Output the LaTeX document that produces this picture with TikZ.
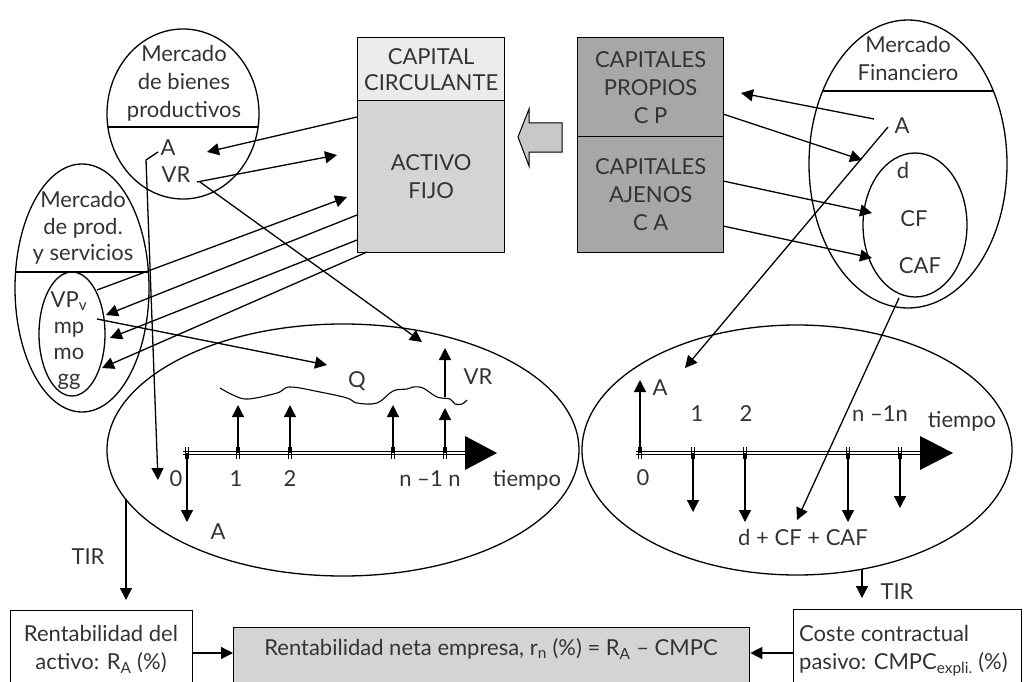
\documentclass[tikz,border=0pt]{standalone}
\usepackage{fontspec}
\setmainfont{Lato}
\usetikzlibrary{shapes.geometric,arrows.meta}
\definecolor{ink}{HTML}{333333}
\definecolor{paleg}{HTML}{EBEBEB}
\definecolor{midg}{HTML}{D4D4D4}
\definecolor{darkg}{HTML}{A7A7A7}
\definecolor{arrg}{HTML}{C8C8C8}
\begin{document}
\begin{tikzpicture}[x=1pt,y=-1pt,
  every node/.style={font=\fontsize{22}{28}\selectfont, text=ink, inner sep=0pt},
  lbl/.style={align=center},
  lab/.style={text height=1.5ex, text depth=0.4ex},
  oval/.style={draw, ellipse, line width=1.3pt, inner sep=0pt},
  conn/.style={line width=1.3pt},
  arr/.style={conn, -{Triangle[length=12pt,width=12pt]}},
  panel/.style={draw, line width=1.3pt, inner sep=0pt, anchor=north west, align=center},
  tick/.style={line width=0.9pt},
  axis/.style={double, double distance=2.4pt, line width=0.9pt},
]
\useasboundingbox (0,0) rectangle (1025,682);

% ---------- market of productive goods ----------
\node[oval, minimum width=152pt, minimum height=170pt] (mbp) at (183,114) {};
\draw[conn] (108,127) -- (258,127);
\node[lbl] (mbpt) at (184,83) {Mercado\\de bienes\\productivos};
\node[lab] (mbpA) at (168,153) {A};
\node[lab] (mbpVR) at (176,180) {VR};

% ---------- market of products and services ----------
\node[oval, minimum width=134pt, minimum height=248pt] (mps) at (82,288) {};
\draw[conn] (16,272) -- (148,272);
\node[lbl, font=\fontsize{22}{26.5}\selectfont] (mpst) at (83,228) {Mercado\\de prod.\\y servicios};
\node[oval, minimum width=66pt, minimum height=124pt] (mpsi) at (72,334) {};
\node[lbl, font=\fontsize{22}{26}\selectfont] (mpsit) at (69,341) {VP\textsubscript{v}\\mp\\mo\\gg};

% ---------- assets ----------
\node[panel, fill=paleg, minimum width=147pt, minimum height=63pt,
      font=\fontsize{22}{26}\selectfont] (cc) at (357,37) {CAPITAL\\CIRCULANTE};
\node[panel, fill=midg, minimum width=147pt, minimum height=152pt] (af) at (357,100) {ACTIVO\\FIJO};

% ---------- liabilities ----------
\node[panel, fill=darkg, minimum width=146pt, minimum height=99pt] (cp) at (577,37) {CAPITALES\\PROPIOS\\C P};
\node[panel, fill=darkg, minimum width=146pt, minimum height=116pt] (ca) at (577,136) {CAPITALES\\AJENOS\\C A};

% block arrow: funds flow from liabilities to assets
\draw[line width=1pt, fill=arrg] (562,123) -- (529,123) -- (529,109) -- (518,137)
  -- (529,166) -- (529,152) -- (562,152) -- cycle;

% ---------- financial market ----------
\node[oval, minimum width=198pt, minimum height=288pt] (mf) at (908,164) {};
\draw[conn] (823,91) -- (993,91);
\node[lbl] (mft) at (908,58) {Mercado\\Financiero};
\node[lab] (mfA) at (902,131) {A};
\node[oval, minimum width=104pt, minimum height=144pt] (mfi) at (915,225) {};
\node[lab] (mfd) at (903,176) {d};
\node[lab] (mfCF) at (914,224) {CF};
\node[lab] (mfCAF) at (920,271) {CAF};

% ---------- investment cash-flow diagram ----------
\node[oval, minimum width=472pt, minimum height=252pt] (pL) at (343,450) {};
\coordinate (L0) at (187,453);
\coordinate (L1) at (238,453);
\coordinate (L2) at (290,453);
\coordinate (L3) at (393,453);
\coordinate (L4) at (445,453);
\draw[axis] (183,453) -- (468,453);
\fill (465,436) -- (497,453) -- (465,470) -- cycle;
\foreach \x in {187,238,290,393,445}
  \draw[tick] (\x-1.8,447) -- (\x-1.8,459) (\x+1.8,447) -- (\x+1.8,459);
\draw[arr] (L1) -- (L1 |- 0,405);
\draw[arr] (L2) -- (L2 |- 0,405);
\draw[arr] (L3) -- (L3 |- 0,405);
\draw[arr] (L4) -- (L4 |- 0,408);
\coordinate (vrbase) at (445,397);
\draw[arr] (vrbase) -- (vrbase |- 0,348);
\draw[arr] (L0) -- (L0 |- 0,522);
% brace grouping the flows Q
\draw[line width=1.1pt] plot[smooth, tension=0.6] coordinates {
  (220,388) (233,395) (248,399) (277,393) (290,387) (320,392) (347,398)
  (357,403) (377,403) (393,391) (407,389) (413,387) (423,388) (437,397)
  (450,399) (455,404) (462,404) (467,400)};
\node[lab] (nL0) at (176,484) {0};
\node[lab] (nL1) at (236,484) {1};
\node[lab] (nL2) at (290,484) {2};
\node[lab] (nLn) at (430,484) {n –1 n};
\node[lab] (tL) at (527,484) {tiempo};
\node[lab] (aL) at (218,537) {A};
\node[lab] (qL) at (357,385) {Q};
\node[lab] (vrL) at (478,382) {VR};

% ---------- financing cash-flow diagram ----------
\node[oval, minimum width=430pt, minimum height=250pt] (pR) at (797,450) {};
\coordinate (R0) at (640,453);
\coordinate (R1) at (693,453);
\coordinate (R2) at (745,453);
\coordinate (R3) at (848,453);
\coordinate (R4) at (900,453);
\draw[axis] (636,453) -- (923,453);
\fill (920,436) -- (953,453) -- (920,470) -- cycle;
\foreach \x in {640,693,745,848,900}
  \draw[tick] (\x-1.8,447) -- (\x-1.8,459) (\x+1.8,447) -- (\x+1.8,459);
\draw[arr] (R0) -- (R0 |- 0,380);
\draw[arr] (R1) -- (R1 |- 0,512);
\draw[arr] (R2) -- (R2 |- 0,522);
\draw[arr] (R3) -- (R3 |- 0,522);
\draw[arr] (R4) -- (R4 |- 0,508);
\node[lab] (aR) at (660,393) {A};
\node[lab] (nR1) at (697,419) {1};
\node[lab] (nR2) at (746,419) {2};
\node[lab] (nRn) at (880,419) {n –1n};
\node[lab] (tR) at (962,425) {tiempo};
\node[lab] (nR0) at (643,483) {0};
\node[lab] (sumR) at (803,543) {d + CF + CAF};

% ---------- flows between markets and the balance sheet ----------
\coordinate (a1s) at (357,117);  \coordinate (a1e) at (207,152);
\coordinate (a2s) at (197,182);  \coordinate (a2e) at (337,155);
\coordinate (a3s) at (97,290);   \coordinate (a3e) at (347,197);
\coordinate (a4s) at (357,215);  \coordinate (a4e) at (106,315);
\coordinate (a5s) at (357,240);  \coordinate (a5e) at (110,338);
\coordinate (a6s) at (367,252);  \coordinate (a6e) at (102,368);
\coordinate (a7s) at (97,319);   \coordinate (a7e) at (327,365);
\coordinate (a8s) at (200,182);  \coordinate (a8e) at (422,342);
\coordinate (a9s) at (158,152);  \coordinate (a9k) at (146,160);
\coordinate (a9e) at (158,480);
\draw[arr] (a1s) -- (a1e);
\draw[arr] (a2s) -- (a2e);
\draw[arr] (a3s) -- (a3e);
\draw[arr] (a4s) -- (a4e);
\draw[arr] (a5s) -- (a5e);
\draw[arr] (a6s) -- (a6e);
\draw[arr] (a7s) -- (a7e);
\draw[arr] (a8s) -- (a8e);
\draw[arr] (a9s) -- (a9k) -- (a9e);

\coordinate (b1s) at (874,119);  \coordinate (b1e) at (741,93);
\coordinate (b2s) at (723,114);  \coordinate (b2e) at (862,160);
\coordinate (b3s) at (723,181);  \coordinate (b3e) at (872,213);
\coordinate (b4s) at (723,226);  \coordinate (b4e) at (872,258);
\coordinate (b5s) at (888,127);  \coordinate (b5e) at (685,368);
\coordinate (b6s) at (899,298);  \coordinate (b6e) at (797,520);
\draw[arr] (b1s) -- (b1e);
\draw[arr] (b2s) -- (b2e);
\draw[arr] (b3s) -- (b3e);
\draw[arr] (b4s) -- (b4e);
\draw[arr] (b5s) -- (b5e);
\draw[arr] (b6s) -- (b6e);

% ---------- results ----------
\node[panel, minimum width=182pt, minimum height=100pt] (lb) at (10,610) {};
\node[lbl] (lbt) at (101,649) {Rentabilidad del\\activo: R\textsubscript{A} (\%)};
\node[panel, fill=midg, minimum width=516pt, minimum height=90pt] (cb) at (233,627) {};
\node[lab] (cbt) at (491,653) {Rentabilidad neta empresa, r\textsubscript{n} (\%) = R\textsubscript{A} – CMPC};
\node[panel, minimum width=228pt, minimum height=100pt] (rb) at (793,609) {};
\node[align=left, anchor=west] (rbt) at (799,651) {Coste contractual\\pasivo: CMPC\textsubscript{expli.} (\%)};

\coordinate (tirLs) at (126,499);  \coordinate (tirLe) at (126,600);
\coordinate (tirRs) at (862,569);  \coordinate (tirRe) at (862,598);
\draw[arr] (tirLs) -- (tirLe);
\draw[arr] (tirRs) -- (tirRe);
\node[lab] (tirLt) at (88,562) {TIR};
\node[lab] (tirRt) at (897,597) {TIR};

\draw[arr] (lb.east |- cbt) -- (cb.west |- cbt);
\draw[arr] (rb.west |- cbt) -- (cb.east |- cbt);
\end{tikzpicture}
\end{document}
